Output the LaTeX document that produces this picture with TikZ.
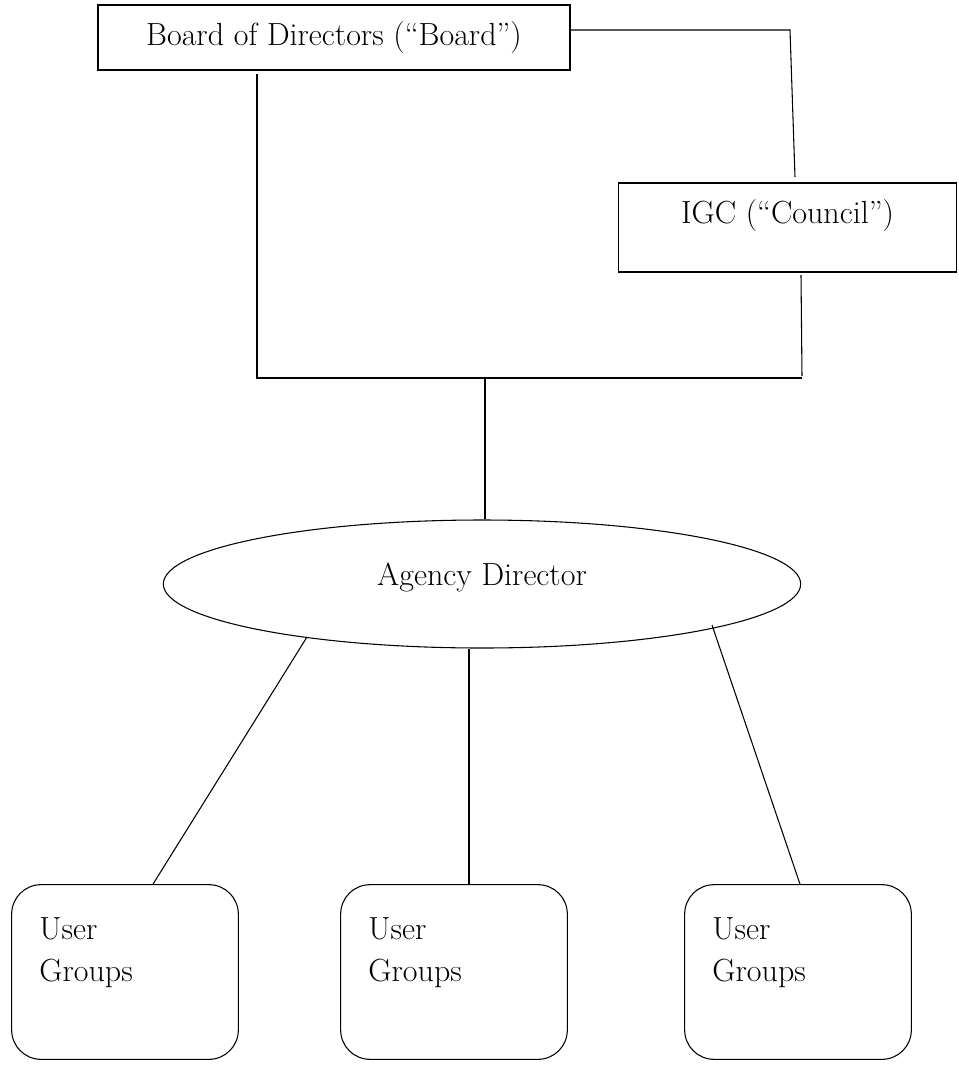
\documentclass[tikz,border=0pt]{standalone}
\usepackage{fontspec}
\usepackage{tikz}
\usetikzlibrary{calc,shapes.geometric}

\tikzset{
    orgbox/.style={draw,thick,rectangle,inner sep=0pt},
    orgtext/.style={font=\fontsize{24}{31.5}\selectfont},
    usergroup/.style={draw,thick,rectangle,rounded corners=22pt,
        minimum width=170pt,minimum height=131pt,inner sep=0pt},
    link/.style={thick}
}

\begin{document}
\begin{tikzpicture}[x=0.75pt,y=-0.75pt]
    \useasboundingbox (0,0) rectangle (958,1065);

    % top of the chart
    \node[orgbox,orgtext,minimum width=354pt,minimum height=48.75pt] (board) at (334,37.5) {Board of Directors (``Board'')};
    \node[orgbox,orgtext,minimum width=254pt,minimum height=66.75pt,text height=16pt,text depth=22pt] (igc) at (787.5,227.5) {IGC (``Council'')};

    \coordinate (bcorner) at (790,30);
    \coordinate (ctop) at (795,177);
    \coordinate (cbot) at (801,275);
    \coordinate (cend) at (802,376);
    \coordinate (bdrop) at (257,74);
    \coordinate (bend) at (257,378);
    \coordinate (join) at (485,378);

    \draw[link] (board.east |- bcorner) -- (bcorner) -- (ctop);
    \draw[link] (cbot) -- (cend);
    \draw[link] (bdrop) -- (bend) -- (cend |- bend);

    % director
    \node[draw,thick,ellipse,orgtext,minimum width=478pt,minimum height=96pt,inner sep=0pt,text height=16pt,text depth=14pt] (agency) at (482,584) {Agency Director};
    \draw[link] (join) -- (agency.north -| join);

    % user groups
    \foreach \i/\x in {1/125,2/454,3/798}
    {
        \node[usergroup] (ug\i) at (\x,972) {};
        \node[orgtext,anchor=north west,align=left,inner sep=0pt] (ugt\i) at ([shift={(21pt,-25pt)}]ug\i.north west) {User\\Groups};
    }
    \coordinate (left) at (307,637);
    \coordinate (right) at (712,625);
    \draw[link] (left) -- (ug1.north -| 153,0);
    \draw[link] (agency.south -| 469,0) -- (ug2.north -| 469,0);
    \draw[link] (right) -- (ug3.north -| 800,0);
\end{tikzpicture}
\end{document}
